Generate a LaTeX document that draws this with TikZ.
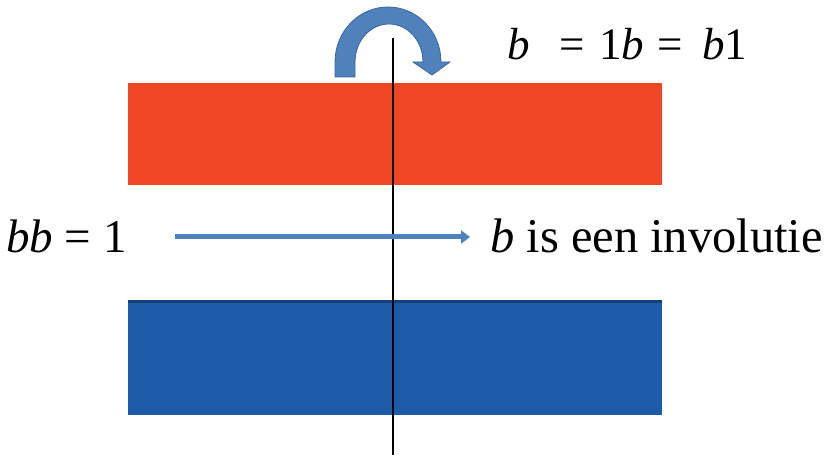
\documentclass[tikz,border=0pt]{standalone}
\usepackage{fontspec}
\setmainfont{Liberation Serif}
\usetikzlibrary{arrows.meta}
\definecolor{flagred}{HTML}{EF4623}
\definecolor{flagblue}{HTML}{1B5BA8}
\definecolor{arrblue}{HTML}{4F81BD}
\definecolor{arredge}{HTML}{3B6596}
\tikzset{
  lbl/.style={anchor=base west, inner sep=0pt, font=\fontsize{47}{50}\selectfont},
  invlbl/.style={anchor=base west, inner sep=0pt, font=\fontsize{48.5}{52}\selectfont},
  toplbl/.style={anchor=base west, inner sep=0pt, font=\fontsize{45}{48}\selectfont},
}
\begin{document}
\begin{tikzpicture}[x=1pt,y=1pt]
\useasboundingbox (0,0) rectangle (831,457);
% flag
\fill[flagred] (128,272) rectangle (662,374);
\fill[white] (128,157) rectangle (662,272);
\fill[flagblue] (128,42) rectangle (662,157);
\fill[flagblue!70!black] (128,154) rectangle (662,157);
% curved arrow
\filldraw[fill=arrblue, draw=arredge, line width=0.8pt]
  (335,380) -- (335,395) arc[start angle=180, end angle=0, x radius=53, y radius=55]
  -- (450,395) -- (432,382) -- (413,395) -- (423,395)
  arc[start angle=0, end angle=180, x radius=34, y radius=38]
  -- (355,380) -- cycle;
% vertical axis
\coordinate (vtop) at (393,419);
\coordinate (vbot) at (393,2);
\draw[line width=1.8pt] (vtop) -- (vbot);
% texts
\node[toplbl] (eq) at (507,397) {\textit{b}\hspace{30pt}=\hspace{14pt}1\textit{b}\hspace{13pt}=\hspace{20pt}\textit{b}1};
\node[lbl] (bb) at (6,204) {\textit{bb} = 1};
\node[invlbl] (inv) at (490,204) {\textit{b} is een involutie};
% middle arrow
\coordinate (as) at (175,220);
\coordinate (ae) at (470,220);
\draw[arrblue, line width=5pt, -{Triangle[length=9pt,width=13pt]}] (as) -- (ae);
\end{tikzpicture}
\end{document}
